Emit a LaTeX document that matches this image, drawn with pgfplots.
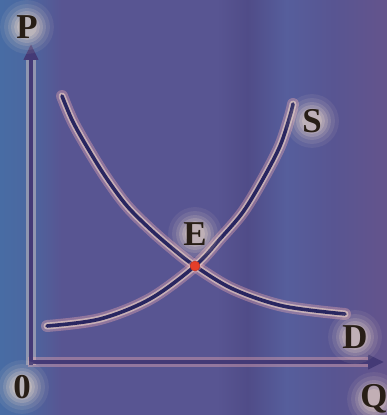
\documentclass[border=0pt]{standalone}
\usepackage{pgfplots}
\pgfplotsset{compat=1.18}
\usepackage{fontspec}
\setmainfont{Liberation Serif}
\usetikzlibrary{arrows.meta}

\definecolor{bgleft}{RGB}{72,108,164}
\definecolor{bgmid}{RGB}{88,85,146}
\definecolor{bgdark}{RGB}{80,76,136}
\definecolor{bgblue}{RGB}{86,94,156}
\definecolor{bgright}{RGB}{100,84,140}
\definecolor{curve}{RGB}{40,38,96}
\definecolor{axiscol}{RGB}{68,58,118}
\definecolor{halo}{RGB}{236,170,176}
\definecolor{cream}{RGB}{246,224,204}
\definecolor{txt}{RGB}{40,30,22}
\definecolor{dot}{RGB}{228,62,42}

% stops between 25bp and 75bp cover the page from left to right
\pgfdeclarehorizontalshading{bgshade}{100bp}{
  color(0bp)=(bgleft); color(25bp)=(bgleft); color(28bp)=(bgleft!85!bgmid);
  color(33bp)=(bgmid); color(53bp)=(bgmid); color(57bp)=(bgdark);
  color(62bp)=(bgblue); color(68bp)=(bgmid); color(75bp)=(bgright);
  color(100bp)=(bgright)}

\pgfplotsset{
  glowline/.style={line width=12pt, halo, opacity=0.38, line cap=round, smooth, tension=0.55},
  glowline2/.style={line width=7pt, cream, opacity=0.55, line cap=round, smooth, tension=0.55},
  mainline/.style={line width=3.6pt, curve, line cap=round, smooth, tension=0.55},
}

\newcommand{\glow}[1]{%
  \fill[cream, opacity=0.08] (axis cs:#1) circle (27pt);
  \fill[cream, opacity=0.1] (axis cs:#1) circle (23pt);
  \fill[cream, opacity=0.14] (axis cs:#1) circle (19pt);
  \fill[cream, opacity=0.18] (axis cs:#1) circle (16pt);
  \fill[cream, opacity=0.22] (axis cs:#1) circle (13pt);
  \fill[cream, opacity=0.26] (axis cs:#1) circle (10pt);}
\newcommand{\lbl}[2]{%
  \node[text=txt, opacity=1, text opacity=1, font=\fontsize{35}{35}\selectfont\bfseries] at (axis cs:#1) {#2};}

\begin{document}
\begin{tikzpicture}
\useasboundingbox (0,0) rectangle (387bp,415bp);
\shade[shading=bgshade] (0,0) rectangle (387bp,415bp);
\begin{axis}[
    at={(0,0)}, anchor=south west,
    scale only axis, width=387bp, height=415bp,
    xmin=-31, xmax=356, ymin=-53, ymax=362,
    hide axis, clip=false]

% axes
\addplot[line width=11pt, cream, opacity=0.4] coordinates {(0,-3) (0,305)};
\addplot[line width=11pt, halo, opacity=0.4] coordinates {(-3,0) (340,0)};
\addplot[line width=3.8pt, axiscol, -{Triangle[length=16pt,width=14pt]}] coordinates {(0,-3) (0,318)};
\addplot[line width=3.8pt, axiscol, -{Triangle[length=16pt,width=14pt]}] coordinates {(-2,0) (353,0)};

% demand
\addplot[glowline] coordinates {(31,266) (42,240) (59,210) (76,183) (96,156) (119,133) (142,113) (164,96) (202,73) (252,56) (314,48)};
\addplot[glowline2] coordinates {(31,266) (42,240) (59,210) (76,183) (96,156) (119,133) (142,113) (164,96) (202,73) (252,56) (314,48)};
\addplot[mainline] coordinates {(31,266) (42,240) (59,210) (76,183) (96,156) (119,133) (142,113) (164,96) (202,73) (252,56) (314,48)};

% supply
\addplot[glowline] coordinates {(16,36) (69,43) (119,63) (164,96) (189,123) (212,150) (232,183) (249,216) (259,246) (262,258)};
\addplot[glowline2] coordinates {(16,36) (69,43) (119,63) (164,96) (189,123) (212,150) (232,183) (249,216) (259,246) (262,258)};
\addplot[mainline] coordinates {(16,36) (69,43) (119,63) (164,96) (189,123) (212,150) (232,183) (249,216) (259,246) (262,258)};

% equilibrium
\addplot[only marks, mark=*, mark size=5pt, mark options={fill=dot, draw=dot!80!black}] coordinates {(164,96)};

\glow{-4,335}
\glow{-9,-25}
\glow{343,-37}
\glow{281,241}
\glow{324,25}
\glow{164,128}
\lbl{-4,335}{P}
\lbl{-9,-25}{0}
\lbl{343,-37}{Q}
\lbl{281,241}{S}
\lbl{324,25}{D}
\lbl{164,128}{E}
\end{axis}
\end{tikzpicture}
\end{document}
